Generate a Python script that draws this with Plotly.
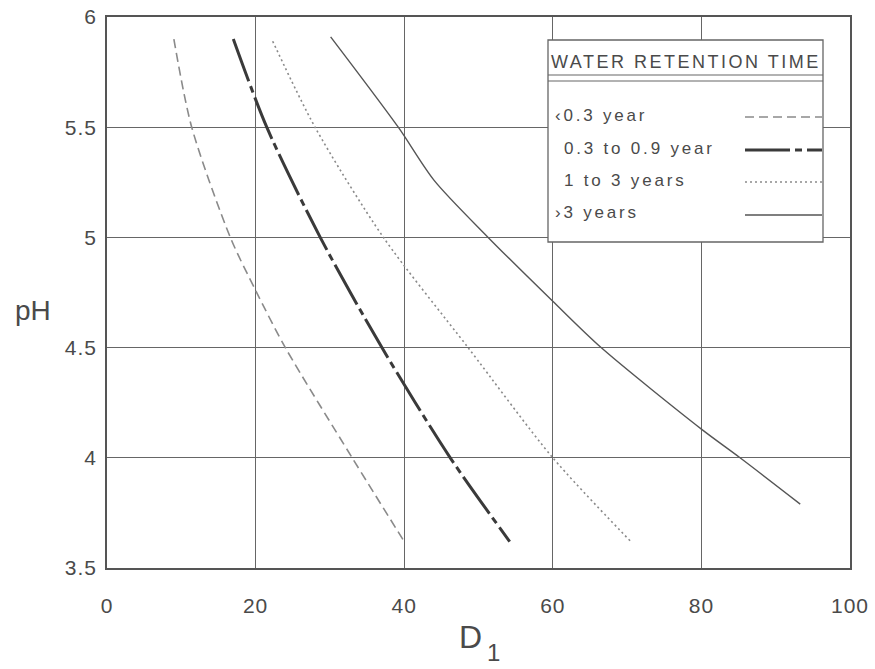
import plotly.graph_objects as go

# ---- data ----
lt03_x = [9.0, 11.4, 16.6, 20.0, 24.0, 33.0, 40.0]
lt03_y = [5.90, 5.50, 5.00, 4.76, 4.50, 4.00, 3.62]

mid_x = [17.0, 21.5, 28.7, 37.0, 46.2, 54.2]
mid_y = [5.90, 5.50, 5.00, 4.50, 4.00, 3.62]

y1to3_x = [22.3, 28.0, 37.2, 48.6, 60.0, 70.5]
y1to3_y = [5.89, 5.50, 5.00, 4.50, 4.00, 3.62]

gt3_x = [30.1, 39.2, 44.0, 51.3, 60.0, 66.5, 80.0, 85.2, 93.3]
gt3_y = [5.91, 5.50, 5.26, 5.00, 4.71, 4.50, 4.13, 4.00, 3.79]

legend_title = "WATER RETENTION TIME"
series_names = ["‹0.3 year", "0.3 to 0.9 year", "1 to 3 years", "›3 years"]
x_ticks = [0, 20, 40, 60, 80, 100]
y_ticks = [3.5, 4, 4.5, 5, 5.5, 6]
y_tick_text = ["3.5", "4", "4.5", "5", "5.5", "6"]

# ---- layout constants ----
W, H = 875, 669
ML, MR, MT, MB = 107, 25, 17, 101
PW, PH = W - ML - MR, H - MT - MB
TXT = "#4a4a4a"


def px(x):
    return (x - ML) / PW


def py(y):
    return (H - MB - y) / PH


def spaced(s, sp):
    return '<span style="letter-spacing:%spx">%s</span>' % (sp, s)


styles = [
    dict(color="#8a8a8a", width=1.6, dash="9px,5px"),
    dict(color="#3a3a3a", width=3.0, dash="45px,5px,7px,5px"),
    dict(color="#8a8a8a", width=1.6, dash="2px,3px"),
    dict(color="#555555", width=1.4, dash="solid"),
]

fig = go.Figure()
for xs, ys, name, st in zip([lt03_x, mid_x, y1to3_x, gt3_x],
                            [lt03_y, mid_y, y1to3_y, gt3_y],
                            series_names, styles):
    fig.add_trace(go.Scatter(x=xs, y=ys, mode="lines", name=name,
                             line=dict(shape="spline", smoothing=0.8, **st),
                             showlegend=False))

font = "Liberation Sans, Arial, sans-serif"
fig.update_layout(
    width=W, height=H,
    margin=dict(l=ML, r=MR, t=MT, b=MB, autoexpand=False),
    paper_bgcolor="white", plot_bgcolor="white",
    font=dict(family=font, color=TXT),
    xaxis=dict(range=[0, 100], tickvals=x_ticks,
               ticktext=[spaced(str(v), 1) for v in x_ticks],
               showgrid=True, gridcolor="#666666", gridwidth=1.3,
               showline=True, linecolor="#555555", linewidth=1.5, mirror=True,
               zeroline=False, ticks="", ticklabelstandoff=18, automargin=False,
               tickfont=dict(size=21, color=TXT)),
    yaxis=dict(range=[3.5, 6], tickvals=y_ticks,
               ticktext=[spaced(t, 1) for t in y_tick_text],
               showgrid=True, gridcolor="#666666", gridwidth=1.3,
               showline=True, linecolor="#555555", linewidth=1.5, mirror=True,
               zeroline=False, ticks="", ticklabelstandoff=4, automargin=False,
               tickfont=dict(size=21, color=TXT)),
)

shapes = []
annotations = []
# legend box
bx0, bx1, by0, by1 = 548, 823, 40, 242
shapes.append(dict(type="rect", xref="paper", yref="paper",
                   x0=px(bx0), x1=px(bx1), y0=py(by1), y1=py(by0),
                   fillcolor="white", line=dict(color="#666666", width=1.3),
                   layer="above"))
for yy in (75, 81):
    shapes.append(dict(type="line", xref="paper", yref="paper",
                       x0=px(bx0), x1=px(bx1), y0=py(yy), y1=py(yy),
                       line=dict(color="#666666", width=1.2), layer="above"))
annotations.append(dict(xref="paper", yref="paper", x=px(686), y=py(62),
                        text=spaced(legend_title, 2.5), showarrow=False,
                        font=dict(size=18, color=TXT, family=font),
                        xanchor="center", yanchor="middle"))
entry_y = [115, 148, 180, 213]
entry_x = [553, 562, 562, 553]
for name, ey, ex, st in zip(series_names, entry_y, entry_x, styles):
    annotations.append(dict(xref="paper", yref="paper", x=px(ex), y=py(ey),
                            text=spaced(name, 2.8), showarrow=False,
                            font=dict(size=17, color=TXT, family=font),
                            xanchor="left", yanchor="middle"))
    shapes.append(dict(type="line", xref="paper", yref="paper",
                       x0=px(745), x1=px(822), y0=py(ey + 2), y1=py(ey + 2),
                       line=dict(color=st["color"], width=st["width"], dash=st["dash"]),
                       layer="above"))

# axis titles
annotations.append(dict(xref="paper", yref="paper", x=px(470), y=py(637),
                        text="D", showarrow=False,
                        font=dict(size=32, color=TXT, family=font),
                        xanchor="center", yanchor="middle"))
annotations.append(dict(xref="paper", yref="paper", x=px(494), y=py(652),
                        text="1", showarrow=False,
                        font=dict(size=24, color=TXT, family=font),
                        xanchor="center", yanchor="middle"))
annotations.append(dict(xref="paper", yref="paper", x=px(33), y=py(310),
                        text="pH", showarrow=False,
                        font=dict(size=28, color=TXT, family=font),
                        xanchor="center", yanchor="middle"))

fig.update_layout(shapes=shapes, annotations=annotations)
fig.write_html("out.html", config={"displayModeBar": False},
               post_script="document.body.style.margin='0';document.body.style.overflow='hidden';")
